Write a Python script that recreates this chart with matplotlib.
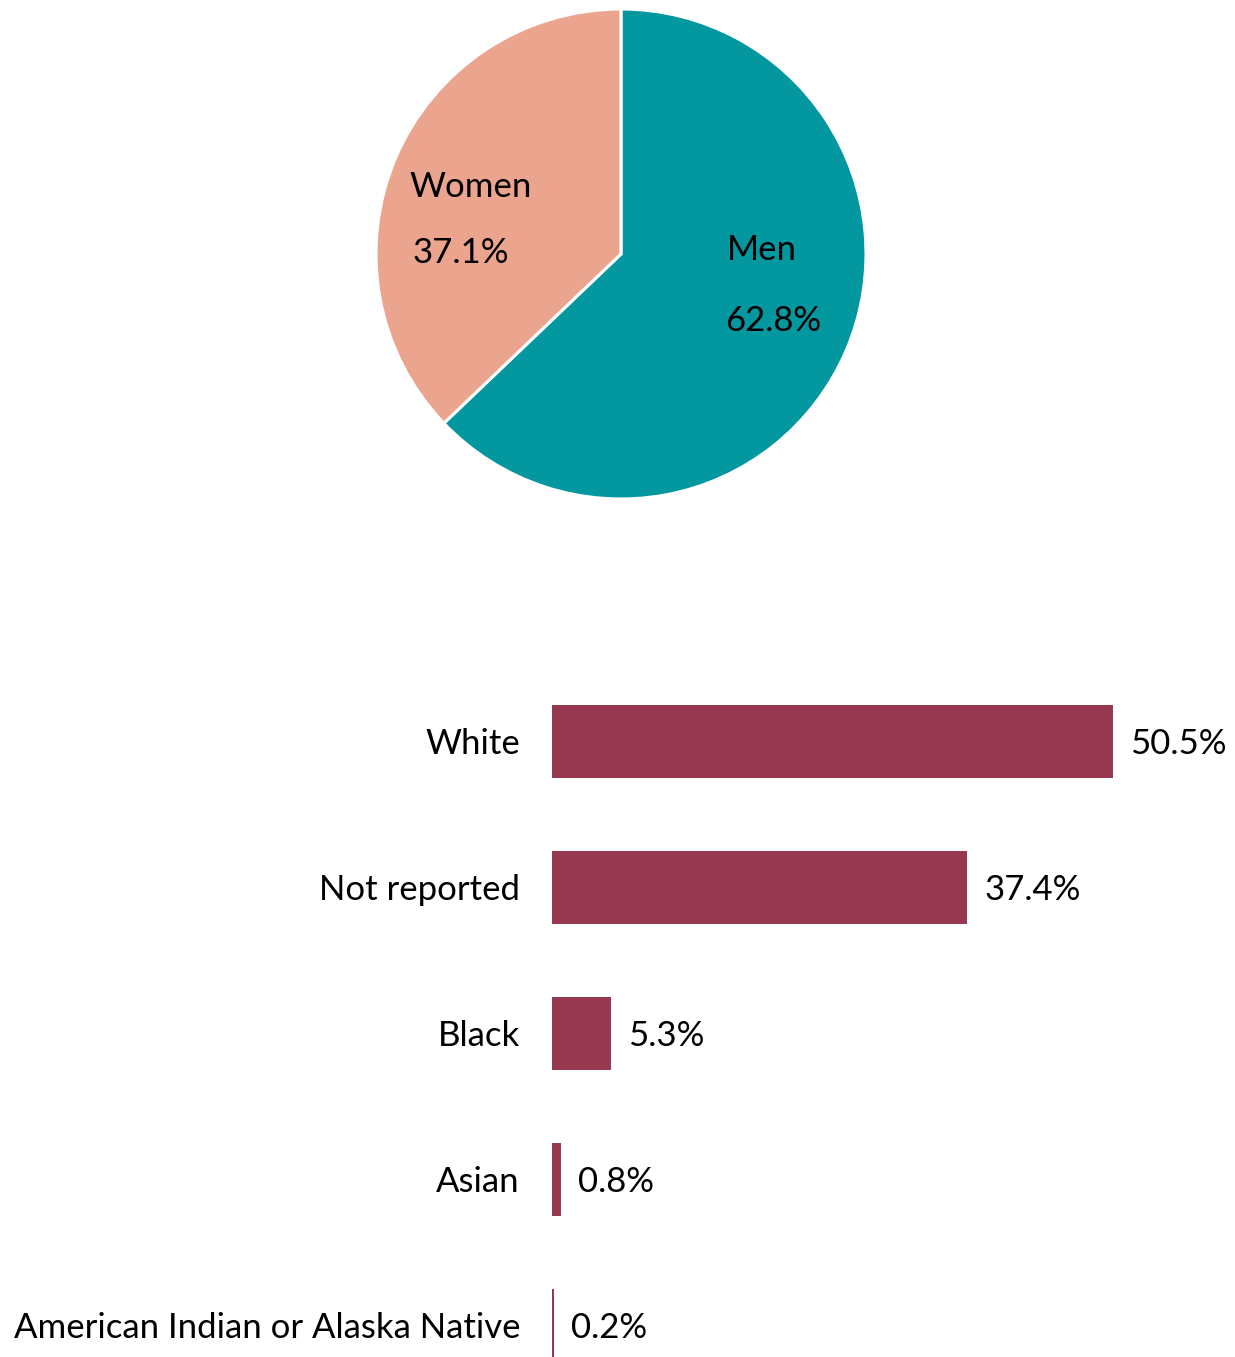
import matplotlib
matplotlib.use("Agg")
import matplotlib.pyplot as plt

# Gender split
gender_labels = ["Men", "Women"]
gender_values = [62.8, 37.1]
gender_colors = ["#0397A0", "#EBA48E"]

# Race / ethnicity shares
race_labels = ["White", "Not reported", "Black", "Asian", "American Indian or Alaska Native"]
race_values = [50.5, 37.4, 5.3, 0.8, 0.2]
bar_color = "#96384F"

plt.rcParams["font.family"] = ["Lato", "DejaVu Sans"]
FS = 25

W, H = 1235, 1357
fig = plt.figure(figsize=(W / 100, H / 100), dpi=100)

# ---- pie ----
cx, cy, r = 621, 254, 245
ax_pie = fig.add_axes([(cx - r) / W, 1 - (cy + r) / H, 2 * r / W, 2 * r / H])
ax_pie.pie(gender_values, colors=gender_colors, startangle=90, counterclock=False,
           wedgeprops=dict(edgecolor="white", linewidth=2.2), radius=1)
ax_pie.set_xlim(-1, 1)
ax_pie.set_ylim(-1, 1)
ax_pie.set_aspect("equal")
ax_pie.axis("off")

dy = 3  # small downward nudge for text centring

def px(x, y):
    return (x - cx) / r, (cy - (y + dy)) / r

label_pos = {"Men": [(762, 247), (773, 318)], "Women": [(471, 184), (461, 250)]}
for name, val in zip(gender_labels, gender_values):
    (n_xy, v_xy) = label_pos[name]
    ax_pie.text(*px(*n_xy), name, ha="center", va="center", fontsize=FS, color="black")
    ax_pie.text(*px(*v_xy), f"{val}%", ha="center", va="center", fontsize=FS, color="black")

# ---- bars ----
x0 = 552
scale = 11.1  # px per percent
step = 146
top = 741 - step / 2
ax_bar = fig.add_axes([x0 / W, 0, (W - x0) / W, 1 - top / H])
ypos = list(range(len(race_labels)))
ax_bar.barh(ypos, race_values, height=0.5, color=bar_color)
ax_bar.set_xlim(0, (W - x0) / scale)
span = (H - top) / step
ax_bar.set_ylim(-0.5 + span, -0.5)
ax_bar.axis("off")

off = 17 / scale
ty = dy / step
for y, lab, v in zip(ypos, race_labels, race_values):
    ax_bar.text(v + off, y + ty, f"{v}%", ha="left", va="center", fontsize=FS, color="black")
    ax_bar.text(-32 / scale, y + ty, lab, ha="right", va="center", fontsize=FS, color="black",
                clip_on=False)

fig.savefig("out.png", dpi=100, facecolor="white")
